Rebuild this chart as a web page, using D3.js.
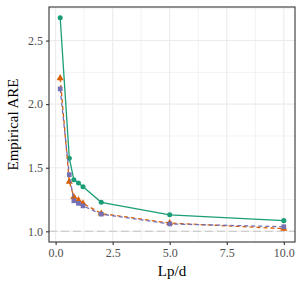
<!DOCTYPE html>
<html>
<head>
<meta charset="utf-8">
<script src="https://cdn.jsdelivr.net/npm/d3@7"></script>
<style>
body { margin: 0; background: #fff; }
svg { display: block; font-family: "Liberation Serif", "DejaVu Serif", serif; }
</style>
</head>
<body>
<div id="chart"></div>
<script>
// data
var lpd = [0.2, 0.6, 0.8, 1.0, 1.2, 2, 5, 10];
var areGreen = [2.68, 1.575, 1.405, 1.38, 1.35, 1.228, 1.13, 1.084];
var areOrange = [2.205, 1.39, 1.27, 1.245, 1.22, 1.14, 1.065, 1.021];
var arePurple = [2.12, 1.445, 1.24, 1.22, 1.20, 1.135, 1.058, 1.036];
var xTicks = [0, 2.5, 5, 7.5, 10];
var xMinor = [1.25, 3.75, 6.25, 8.75];
var yTicks = [1.0, 1.5, 2.0, 2.5];
var yMinor = [1.25, 1.75, 2.25, 2.75];
var refLine = 1;

var W = 302, H = 291;
var m = {left: 49, top: 7, right: 7, bottom: 49};

var svg = d3.select('#chart').append('svg')
	.attr('width', W)
	.attr('height', H);

var x = d3.scaleLinear().domain([-0.29, 10.49]).range([m.left, W - m.right]);
var y = d3.scaleLinear().domain([0.916, 2.764]).range([H - m.bottom, m.top]);

// grid
var grid = svg.append('g');
grid.selectAll('.vmin').data(xMinor).enter().append('line')
	.attr('x1', x).attr('x2', x).attr('y1', m.top).attr('y2', H - m.bottom)
	.style('stroke', '#ebebeb').style('stroke-width', 0.6);
grid.selectAll('.hmin').data(yMinor).enter().append('line')
	.attr('x1', m.left).attr('x2', W - m.right).attr('y1', y).attr('y2', y)
	.style('stroke', '#ebebeb').style('stroke-width', 0.6);
grid.selectAll('.vmaj').data(xTicks).enter().append('line')
	.attr('x1', x).attr('x2', x).attr('y1', m.top).attr('y2', H - m.bottom)
	.style('stroke', '#ebebeb').style('stroke-width', 1.1);
grid.selectAll('.hmaj').data(yTicks).enter().append('line')
	.attr('x1', m.left).attr('x2', W - m.right).attr('y1', y).attr('y2', y)
	.style('stroke', '#ebebeb').style('stroke-width', 1.1);

// reference line at 1
svg.append('line')
	.attr('x1', m.left).attr('x2', W - m.right)
	.attr('y1', y(refLine)).attr('y2', y(refLine))
	.style('stroke', '#c4c4c4').style('stroke-width', 1.1)
	.style('stroke-dasharray', '8,4');

// series
var series = [
	{vals: areGreen, color: '#1b9e77', dash: null, shape: d3.symbolCircle, size: 20},
	{vals: areOrange, color: '#d95f02', dash: '4,3', shape: d3.symbolTriangle, size: 22},
	{vals: arePurple, color: '#7570b3', dash: '4,3', shape: d3.symbolSquare, size: 22}
];

var line = d3.line()
	.x(function(d) {return x(d[0]);})
	.y(function(d) {return y(d[1]);});

series.forEach(function(s) {
	var pts = lpd.map(function(v, i) {return [v, s.vals[i]];});
	svg.append('path')
		.datum(pts)
		.attr('d', line)
		.style('fill', 'none')
		.style('stroke', s.color)
		.style('stroke-width', 1.3)
		.style('stroke-dasharray', s.dash);
	svg.selectAll(null).data(pts).enter().append('path')
		.attr('d', d3.symbol().type(s.shape).size(s.size))
		.attr('transform', function(d) {return 'translate(' + x(d[0]) + ',' + y(d[1]) + ')';})
		.style('fill', s.color);
});

// panel border
svg.append('rect')
	.attr('x', m.left).attr('y', m.top)
	.attr('width', W - m.left - m.right).attr('height', H - m.top - m.bottom)
	.style('fill', 'none').style('stroke', '#333').style('stroke-width', 1.1);

// axes
var xAxis = svg.append('g')
	.attr('transform', 'translate(0,' + (H - m.bottom) + ')')
	.call(d3.axisBottom(x).tickValues(xTicks).tickFormat(d3.format('.1f')).tickSize(3).tickPadding(3));
var yAxis = svg.append('g')
	.attr('transform', 'translate(' + m.left + ',0)')
	.call(d3.axisLeft(y).tickValues(yTicks).tickFormat(d3.format('.1f')).tickSize(3).tickPadding(3));

[xAxis, yAxis].forEach(function(a) {
	a.select('.domain').remove();
	a.selectAll('line').style('stroke', '#333').style('stroke-width', 1.1);
	a.selectAll('text')
		.style('font-family', '"Liberation Serif", serif')
		.style('font-size', '12px')
		.style('fill', '#4d4d4d');
});

// titles
svg.append('text')
	.attr('x', (m.left + W - m.right) / 2)
	.attr('y', 276)
	.attr('text-anchor', 'middle')
	.style('font-size', '15px')
	.text('Lp/d');

svg.append('text')
	.attr('transform', 'translate(18,' + ((m.top + H - m.bottom) / 2) + ') rotate(-90)')
	.attr('text-anchor', 'middle')
	.style('font-size', '15px')
	.text('Empirical ARE');
</script>
</body>
</html>
